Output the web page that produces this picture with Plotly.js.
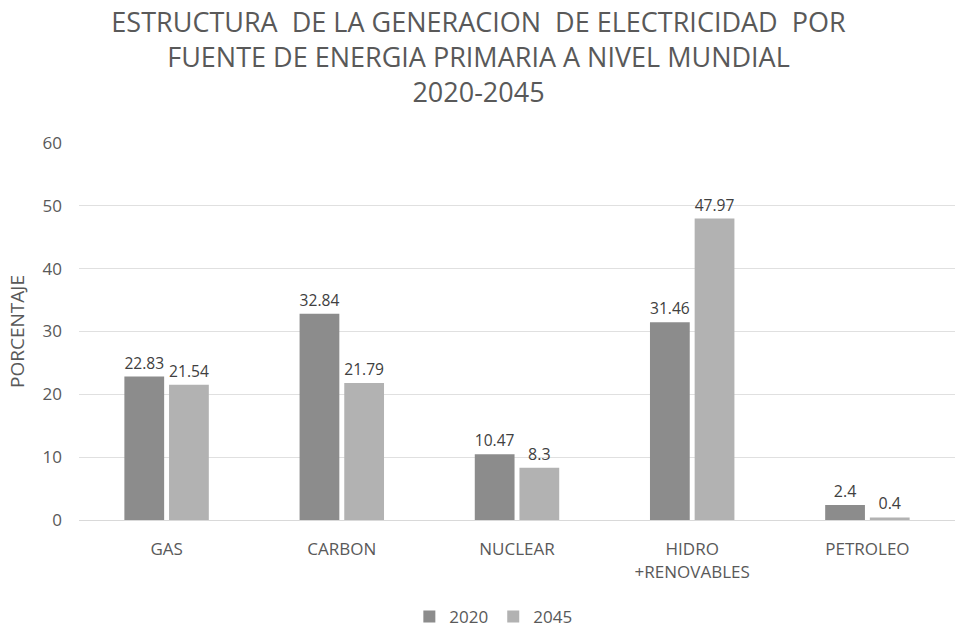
<!DOCTYPE html>
<html>
<head>
<meta charset="utf-8">
<script src="https://cdn.plot.ly/plotly-3.0.1.min.js"></script>
<style>html,body{margin:0;padding:0;background:#fff;}#chart{width:957px;height:627px;}</style>
</head>
<body>
<div id="chart"></div>
<script>
const categories = ["GAS", "CARBON", "NUCLEAR", "HIDRO<br>+RENOVABLES", "PETROLEO"];
const values2020 = [22.83, 32.84, 10.47, 31.46, 2.4];
const values2045 = [21.54, 21.79, 8.3, 47.97, 0.4];
const seriesNames = ["2020", "2045"];
const yTicks = [0, 10, 20, 30, 40, 50, 60];

const font = "Open Sans, Noto Sans, sans-serif";
const traces = [
  {type: "bar", name: seriesNames[0], x: categories, y: values2020,
   marker: {color: "#8c8c8c"}, text: values2020.map(String), textposition: "outside",
   textfont: {color: "#404040", size: 16}, cliponaxis: false},
  {type: "bar", name: seriesNames[1], x: categories, y: values2045,
   marker: {color: "#b2b2b2"}, text: values2045.map(String), textposition: "outside",
   textfont: {color: "#404040", size: 16}, cliponaxis: false}
];
const layout = {
  width: 957, height: 627,
  font: {family: font, color: "#595959"},
  paper_bgcolor: "#fff", plot_bgcolor: "#fff",
  title: {text: "ESTRUCTURA  DE LA GENERACION  DE ELECTRICIDAD  POR<br>FUENTE DE ENERGIA PRIMARIA A NIVEL MUNDIAL<br>2020-2045",
          font: {size: 27, color: "#595959", family: font}, x: 0.5, xanchor: "center", y: 0.949, yanchor: "top"},
  margin: {l: 79, r: 2, t: 143, b: 107, autoexpand: false},
  barmode: "group", bargap: 0.49, bargroupgap: 0.11,
  xaxis: {tickfont: {size: 17, color: "#595959"}, showline: true, linecolor: "#d9d9d9", ticks: "",
          ticklabelstandoff: 14},
  yaxis: {range: [0, 60], tickvals: yTicks, gridcolor: "#e0e0e0", zeroline: false,
          tickfont: {size: 17, color: "#595959"}, ticks: "", ticklabelstandoff: 16,
          title: {text: "PORCENTAJE", font: {size: 19, color: "#595959"}, standoff: 12}},
  legend: {orientation: "h", x: 0.473, xanchor: "center", y: -0.257, yanchor: "middle",
           font: {size: 17, color: "#595959"}, itemwidth: 30, tracegroupgap: 0},
  showlegend: true
};
Plotly.newPlot("chart", traces, layout, {displayModeBar: false, staticPlot: true});
</script>
</body>
</html>
